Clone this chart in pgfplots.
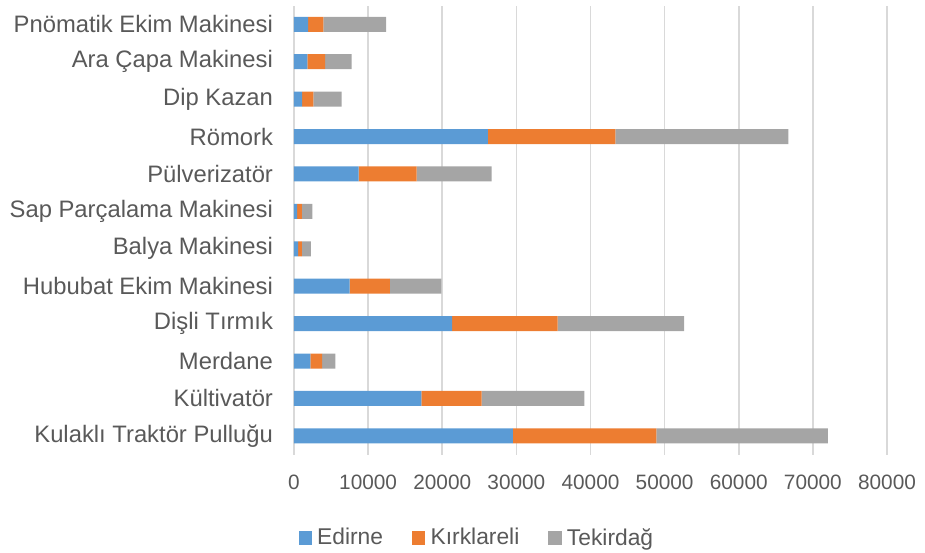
\documentclass[border=0pt]{standalone}
\usepackage{fontspec}
\setmainfont{Liberation Sans}
\usepackage{pgfplots}
\pgfplotsset{compat=1.18}
\definecolor{cEd}{HTML}{5B9BD5}
\definecolor{cKi}{HTML}{ED7D31}
\definecolor{cTe}{HTML}{A5A5A5}
\definecolor{cTxt}{HTML}{595959}
\definecolor{cGrid}{HTML}{D9D9D9}
\begin{document}
\begin{tikzpicture}
\useasboundingbox (-147pt,-48.7pt) rectangle (315.5pt,227.3pt);
\begin{axis}[
  at={(0,0)}, anchor=south west,
  scale only axis,
  width=296.5pt, height=224.5pt,
  xbar stacked,
  bar width=7.5pt,
  xmin=0, xmax=80000,
  ymin=-0.5, ymax=11.5,
  xtick={0,10000,...,80000},
  ytick={0,...,11},
  yticklabels={Kulaklı Traktör Pulluğu, Kültivatör, Merdane, Dişli Tırmık, Hububat Ekim Makinesi, Balya Makinesi, Sap Parçalama Makinesi, Pülverizatör, Römork, Dip Kazan, Ara Çapa Makinesi, Pnömatik Ekim Makinesi},
  scaled x ticks=false,
  /pgf/number format/.cd, 1000 sep={}, assume math mode=true, /pgfplots/.cd,
  xmajorgrids,
  grid style={draw=cGrid, line width=0.8pt},
  axis line style={draw=none},
  major tick length=0pt,
  xticklabel style={font=\fontsize{10.4pt}{12pt}\selectfont, text=cTxt, yshift=-6.5pt},
  yticklabel style={font=\fontsize{11.9pt}{14pt}\selectfont, text=cTxt, xshift=-7pt},
  legend columns=-1,
  legend style={at={(0.007,-0.186)}, anchor=west, draw=none, inner sep=0pt,
    font=\fontsize{11.4pt}{13pt}\selectfont, text=cTxt,
    nodes={inner xsep=1.5pt},
    /tikz/every even column/.append style={column sep=13pt}},
  legend image code/.code={\fill[#1] (0pt,-3.2pt) rectangle (6.6pt,3.4pt); \path (7.8pt,0pt);},
]
\addplot[fill=cEd, draw=none] coordinates {
(29520,0) (17200,1) (2220,2) (21320,3) (7520,4) (560,5) (430,6) (8730,7) (26160,8) (1100,9) (1820,10) (1910,11)};
\addplot[fill=cKi, draw=none] coordinates {
(19370,0) (8110,1) (1570,2) (14260,3) (5420,4) (500,5) (630,6) (7800,7) (17180,8) (1520,9) (2380,10) (2060,11)};
\addplot[fill=cTe, draw=none] coordinates {
(23130,0) (13860,1) (1800,2) (17040,3) (6950,4) (1210,5) (1430,6) (10130,7) (23360,8) (3820,9) (3590,10) (8470,11)};
\legend{Edirne, Kırklareli, Tekirdağ}
\end{axis}
\end{tikzpicture}
\end{document}
